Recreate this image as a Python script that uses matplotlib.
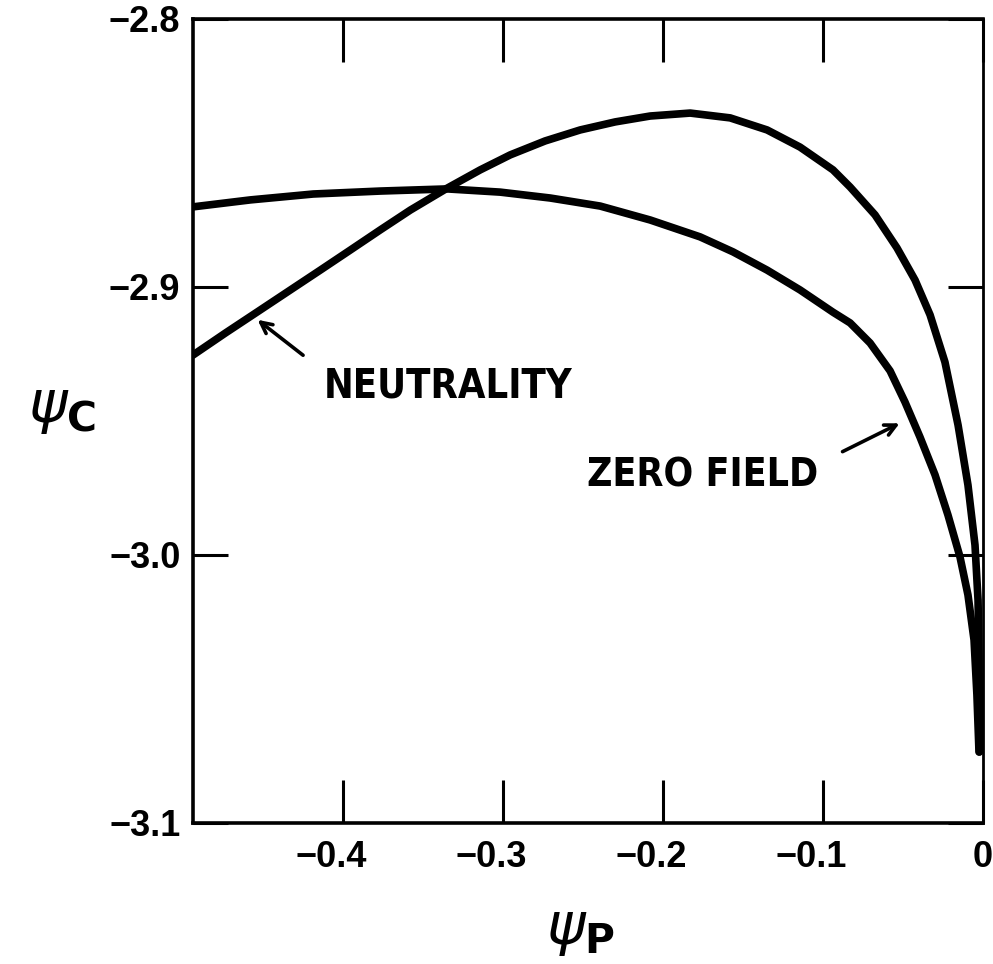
import numpy as np
import matplotlib.pyplot as plt
from matplotlib import font_manager as fm
from matplotlib.transforms import ScaledTranslation

# curves: psi_P (x) vs psi_C (y)
neut_x = [-0.494, -0.4738, -0.4538, -0.4331, -0.4144, -0.3956, -0.3769, -0.3581,
          -0.3350, -0.3144, -0.2956, -0.2738, -0.2519, -0.2300, -0.2081, -0.1831,
          -0.1581, -0.1350, -0.1144, -0.0938, -0.0831, -0.0675, -0.0538, -0.0425,
          -0.0331, -0.0238, -0.0156, -0.0094, -0.0050, -0.0031, -0.0025, -0.0022]
neut_y = [-2.9254, -2.9172, -2.9093, -2.9011, -2.8937, -2.8862, -2.8787, -2.8713,
          -2.8631, -2.8563, -2.8507, -2.8455, -2.8414, -2.8384, -2.8362, -2.8351,
          -2.8369, -2.8414, -2.8478, -2.8563, -2.8627, -2.8731, -2.8854, -2.8974,
          -2.9104, -2.9280, -2.9515, -2.9739, -2.9963, -3.0168, -3.0392, -3.0735]

zero_x = [-0.494, -0.4581, -0.4188, -0.3769, -0.3350, -0.3019, -0.2706, -0.2394,
          -0.2081, -0.1769, -0.1563, -0.1350, -0.1144, -0.0938, -0.0831, -0.0706,
          -0.0581, -0.0488, -0.0394, -0.0300, -0.0219, -0.0144, -0.0094, -0.0056,
          -0.0038, -0.0025]
zero_y = [-2.8701, -2.8675, -2.8653, -2.8642, -2.8634, -2.8646, -2.8668, -2.8698,
          -2.8750, -2.8813, -2.8869, -2.8937, -2.9011, -2.9094, -2.9134, -2.9209,
          -2.9313, -2.9429, -2.9560, -2.9701, -2.9851, -3.0007, -3.0149, -3.0317,
          -3.0522, -3.0735]

xticks = [-0.4, -0.3, -0.2, -0.1, 0.0]
xtick_labels = ['\u22120.4', '\u22120.3', '\u22120.2', '\u22120.1', '0']
yticks = [-2.8, -2.9, -3.0, -3.1]
ytick_labels = ['\u22122.8', '\u22122.9', '\u22123.0', '\u22123.1']

plt.rcParams['mathtext.fontset'] = 'dejavusans'
lab_font = ['Liberation Sans', 'DejaVu Sans']


def narrow_bold():
    # a condensed bold face for the hand lettered notes, if one is installed
    for f in fm.fontManager.ttflist:
        nm = f.name.lower()
        st = str(f.stretch).lower()
        bold = f.weight in ('bold', 700, 'heavy', 800) or str(f.weight) == '700'
        if bold and f.style == 'normal' and ('narrow' in nm or 'condensed' in nm
                                             or 'condensed' in st):
            return fm.FontProperties(fname=f.fname)
    return fm.FontProperties(family='Liberation Sans', weight='bold')


fig = plt.figure(figsize=(9.93, 9.64), dpi=100)
ax = fig.add_axes([193/993, 1 - 823/964, 790/993, 804/964])

ax.plot(neut_x, neut_y, color='black', lw=5.5, solid_capstyle='round',
        solid_joinstyle='round')
ax.plot(zero_x, zero_y, color='black', lw=5.5, solid_capstyle='round',
        solid_joinstyle='round')

ax.set_xlim(-0.494, 0.0)
ax.set_ylim(-3.1, -2.8)

for s in ax.spines.values():
    s.set_linewidth(2.6)
ax.spines['right'].set_linewidth(2.0)

ax.set_xticks(xticks)
ax.set_xticklabels(xtick_labels, family=lab_font, weight='bold', fontsize=26)
ax.set_yticks(yticks)
ax.set_yticklabels(ytick_labels, family=lab_font, weight='bold', fontsize=26)
ax.tick_params(axis='x', direction='in', length=31, width=2.2, top=True, pad=12)
ax.tick_params(axis='y', direction='in', length=25, width=2.2, right=True, pad=9)

# digits sit over the tick, minus sign hangs to the left
shift = ScaledTranslation(-0.12, 0, fig.dpi_scale_trans)
for lab in ax.get_xticklabels()[:-1]:
    lab.set_transform(lab.get_transform() + shift)

fp = narrow_bold()
t1 = ax.text(-0.4125, -2.9414, 'NEUTRALITY', fontproperties=fp,
             fontsize=34, ha='left', va='baseline')
ax.annotate('', xy=(-0.455, -2.9116), xytext=(-0.4238, -2.9261),
            arrowprops=dict(arrowstyle='->,head_length=0.8,head_width=0.4',
                            lw=2.6, color='black'))

t2 = ax.text(-0.2475, -2.9746, 'ZERO FIELD', fontproperties=fp.copy(),
             fontsize=32, ha='left', va='baseline')
ax.annotate('', xy=(-0.0506, -2.9504), xytext=(-0.0894, -2.9619),
            arrowprops=dict(arrowstyle='->,head_length=0.8,head_width=0.4',
                            lw=2.6, color='black'))

# size the notes to the lettering width of the original
fig.canvas.draw()
for t, w in [(t1, 249), (t2, 231)]:
    bb = t.get_window_extent()
    t.set_fontsize(t.get_fontsize() * w / bb.width)

fig.text(62/993, 1 - 408/964, r'$\psi_{\mathbf{C}}$', fontsize=42,
         ha='center', va='center')
fig.text(580/993, 1 - 930/964, r'$\psi_{\mathbf{P}}$', fontsize=42,
         ha='center', va='center')

fig.savefig('out.png', dpi=100)
